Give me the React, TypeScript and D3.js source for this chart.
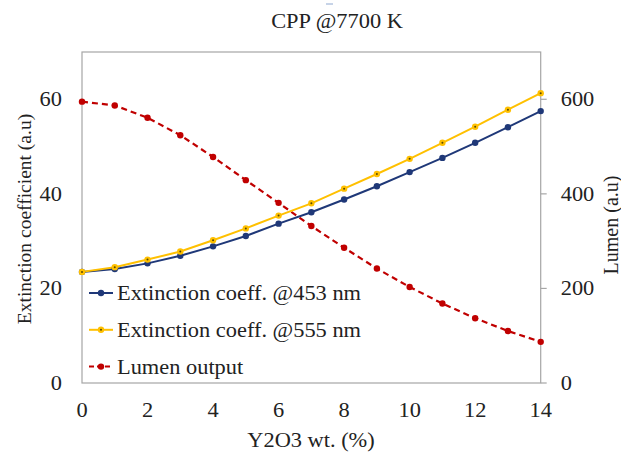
import React from 'react';
import * as d3 from 'd3';

// Y2O3 wt. (%)
const wt = [0, 1, 2, 3, 4, 5, 6, 7, 8, 9, 10, 11, 12, 13, 14];
const ext453 = [23.5, 24.1, 25.3, 26.9, 28.9, 31.1, 33.7, 36.1, 38.8, 41.6, 44.6, 47.6, 50.8, 54.1, 57.5];
const ext555 = [23.5, 24.5, 26.1, 27.8, 30.2, 32.7, 35.4, 38.0, 41.1, 44.2, 47.4, 50.8, 54.2, 57.8, 61.3];
const lumen = [595, 587, 561, 524, 478, 429, 381, 332, 286, 242, 203, 168, 137, 110, 87];

const xTicks = [0, 2, 4, 6, 8, 10, 12, 14];
const leftTicks = [0, 20, 40, 60];
const rightTicks = [0, 200, 400, 600];

const legendItems = [
  { label: 'Extinction coeff. @453 nm', key: 'b' },
  { label: 'Extinction coeff. @555 nm', key: 'y' },
  { label: 'Lumen output', key: 'r' },
];

const BLUE = '#1f3878';
const YELLOW = '#ffc000';
const RED = '#c00000';
const GRID = '#a6a6a6';
const FONT = '"Liberation Serif", "Times New Roman", serif';
const SX = 1.12; // the figure is stretched sideways

// horizontal text, widened like the original
function T({ x, y, anchor = 'start', dy, children }: any) {
  return (
    <text transform={`translate(${x},${y}) scale(${SX},1)`} textAnchor={anchor} dy={dy}
      fontSize={20} fill="#222">{children}</text>
  );
}

export default function App() {
  const width = 621;
  const height = 453;
  const margin = { top: 52, right: 80, bottom: 70, left: 82 };
  const innerWidth = 540.7 - margin.left;
  const innerHeight = 383 - margin.top;

  const xScale = d3.scaleLinear().domain([0, 14]).range([0, innerWidth]);
  const yLeft = d3.scaleLinear().domain([0, 70]).range([innerHeight, 0]);
  const yRight = d3.scaleLinear().domain([0, 700]).range([innerHeight, 0]);

  const lineLeft = d3.line<number>()
    .x((d, i) => xScale(wt[i]))
    .y(d => yLeft(d));
  const lineRight = d3.line<number>()
    .x((d, i) => xScale(wt[i]))
    .y(d => yRight(d));

  const legendX = 89 - margin.left;
  const legendY0 = 293 - margin.top;
  const legendStep = 36.8;

  const marker = (key: string, cx: number, cy: number, k: number) => {
    if (key === 'b') return <circle key={k} cx={cx} cy={cy} r={3.2} fill={BLUE} />;
    if (key === 'y')
      return (
        <g key={k}>
          <circle cx={cx} cy={cy} r={3.2} fill={YELLOW} />
          <circle cx={cx} cy={cy} r={1} fill="#5a4a00" />
        </g>
      );
    return <circle key={k} cx={cx} cy={cy} r={3.2} fill={RED} />;
  };

  return (
    <svg width={width} height={height} style={{ position: 'absolute', left: 0, top: 0 }}
      fontFamily={FONT}>
      <rect width={width} height={height} fill="#fff" />
      <line x1={326} x2={333} y1={4} y2={4} stroke="#8fa8d0" strokeWidth={1} />
      <T x={337} y={28} anchor="middle">CPP @7700 K</T>

      <g transform={`translate(${margin.left},${margin.top})`}>
        {/* plot frame */}
        <rect x={0} y={0} width={innerWidth} height={innerHeight} fill="none" stroke={GRID} strokeWidth={1.2} />

        {/* left axis labels */}
        {leftTicks.map(t => (
          <T key={t} x={-20} y={yLeft(t)} dy="0.35em" anchor="end">{t}</T>
        ))}
        {/* right axis ticks and labels */}
        {rightTicks.map(t => (
          <g key={t}>
            <line x1={innerWidth} x2={innerWidth + 6} y1={yRight(t)} y2={yRight(t)} stroke={GRID} strokeWidth={1.2} />
            <T x={innerWidth + 20} y={yRight(t)} dy="0.35em">{t}</T>
          </g>
        ))}
        {/* bottom labels */}
        {xTicks.map(t => (
          <T key={t} x={xScale(t)} y={innerHeight + 34} anchor="middle">{t}</T>
        ))}

        <text transform={`translate(${24 - margin.left},${219 - margin.top}) rotate(-90)`} textAnchor="middle"
          dy="0.35em" fontSize={19.5} fill="#222">Extinction coefficient (a.u)</text>
        <text transform={`translate(${611 - margin.left},${225 - margin.top}) rotate(-90)`} textAnchor="middle"
          dy="0.35em" fontSize={20} fill="#222">Lumen (a.u)</text>
        <T x={311 - margin.left} y={447 - margin.top} anchor="middle">Y2O3 wt. (%)</T>

        {/* series */}
        <path d={lineRight(lumen) ?? ''} fill="none" stroke={RED} strokeWidth={2.2} strokeDasharray="6,4" />
        <path d={lineLeft(ext453) ?? ''} fill="none" stroke={BLUE} strokeWidth={2} />
        <path d={lineLeft(ext555) ?? ''} fill="none" stroke={YELLOW} strokeWidth={2} />
        {lumen.map((v, i) => marker('r', xScale(wt[i]), yRight(v), i))}
        {ext453.map((v, i) => marker('b', xScale(wt[i]), yLeft(v), i))}
        {ext555.map((v, i) => marker('y', xScale(wt[i]), yLeft(v), i))}

        {/* legend */}
        {legendItems.map((item, i) => {
          const y = legendY0 + i * legendStep;
          const color = item.key === 'b' ? BLUE : item.key === 'y' ? YELLOW : RED;
          return (
            <g key={item.key}>
              <line x1={legendX} x2={legendX + 24} y1={y} y2={y} stroke={color} strokeWidth={2}
                strokeDasharray={item.key === 'r' ? '5,3' : undefined} />
              {marker(item.key, legendX + 12, y, i)}
              <T x={legendX + 28} y={y} dy="0.35em">{item.label}</T>
            </g>
          );
        })}
      </g>
    </svg>
  );
}
